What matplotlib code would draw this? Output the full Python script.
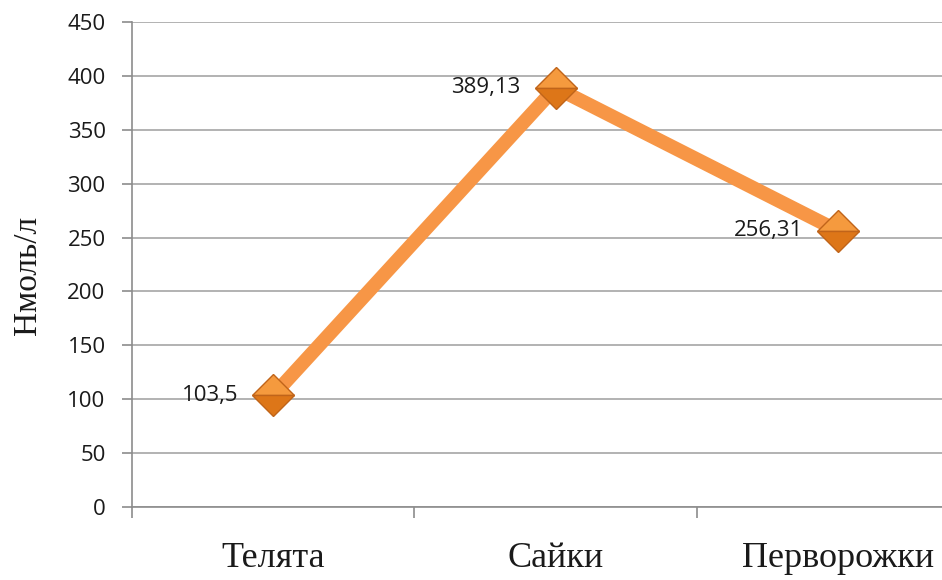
import matplotlib
matplotlib.use("Agg")
import matplotlib.pyplot as plt
from matplotlib.ticker import FixedLocator, MultipleLocator

categories = ["Телята", "Сайки", "Перворожки"]
values = [103.5, 389.13, 256.31]
value_labels = ["103,5", "389,13", "256,31"]
y_label = "Нмоль/л"

W, H = 942, 580
fig = plt.figure(figsize=(W / 100, H / 100), dpi=100)
left, right, bottom, top = 132, 979, 507, 22
ax = fig.add_axes([left / W, (H - bottom) / H, (right - left) / W, (bottom - top) / H])

x = list(range(len(categories)))
line_color = "#F79646"
ax.plot(x, values, color=line_color, linewidth=10, solid_capstyle="butt", zorder=3)
ax.plot(x, values, linestyle="none", marker="D", markersize=21, fillstyle="top",
        markerfacecolor="#F59A3E", markerfacecoloralt="#DD7618",
        markeredgecolor="#C0641A", markeredgewidth=1.0, zorder=4)

for xi, v, lab in zip(x, values, value_labels):
    ax.annotate(lab, (xi, v), xytext=(-35, 0), textcoords="offset pixels",
                ha="right", va="center", fontsize=16, family="Open Sans", color="#1a1a1a", zorder=5)

ax.set_xlim(-0.5, len(categories) - 0.5)
ax.set_ylim(0, 450)
ax.yaxis.set_major_locator(MultipleLocator(50))
ax.grid(axis="y", color="#A6A6A6", linewidth=1.2)
ax.set_axisbelow(True)

for s in ["top", "right"]:
    ax.spines[s].set_visible(False)
for s in ["left", "bottom"]:
    ax.spines[s].set_color("#8C8C8C")
    ax.spines[s].set_linewidth(1.2)

ax.set_xticks(x)
ax.set_xticklabels(categories, family="Liberation Serif", fontsize=26, color="#1a1a1a")
ax.tick_params(axis="x", which="major", length=0, pad=25)
ax.xaxis.set_minor_locator(FixedLocator([i - 0.5 for i in range(len(categories) + 1)]))
ax.tick_params(axis="x", which="minor", length=8, width=1.2, color="#8C8C8C", direction="out")

ax.tick_params(axis="y", length=7, width=1.2, color="#8C8C8C", pad=12, labelsize=16)
for t in ax.get_yticklabels():
    t.set_family("Open Sans")
    t.set_color("#1a1a1a")

fig.text(28 / W, (H - 275) / H, y_label, rotation=90, ha="center", va="center",
         family="Liberation Serif", fontsize=24, color="#1a1a1a")

fig.savefig("out.png", dpi=100)
